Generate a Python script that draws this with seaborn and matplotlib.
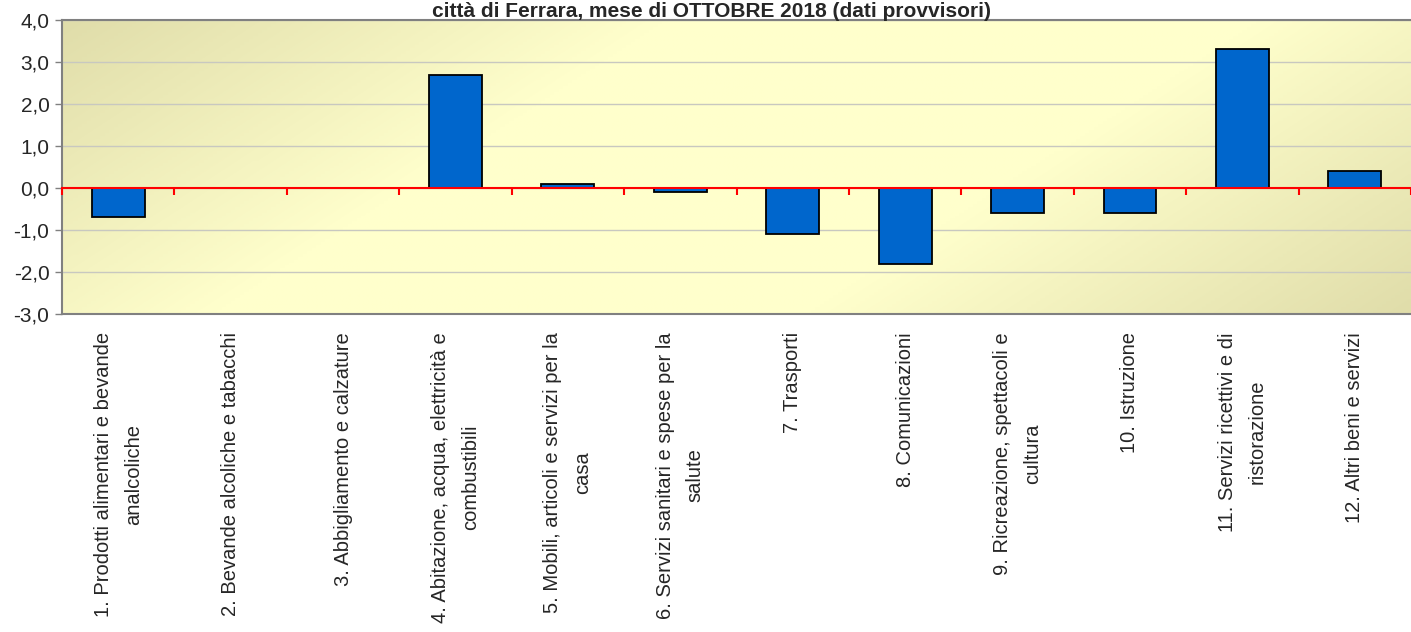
import numpy as np
import matplotlib
matplotlib.use("Agg")
import matplotlib.pyplot as plt
from matplotlib.colors import LinearSegmentedColormap
from matplotlib.ticker import FuncFormatter, NullFormatter
import seaborn as sns

# categorie e variazioni
categories = [
    "1. Prodotti alimentari e bevande\nanalcoliche",
    "2. Bevande alcoliche e tabacchi",
    "3. Abbigliamento e calzature",
    "4. Abitazione, acqua, elettricità e\ncombustibili",
    "5. Mobili, articoli e servizi per la\ncasa",
    "6. Servizi sanitari e spese per la\nsalute",
    "7. Trasporti",
    "8. Comunicazioni",
    "9. Ricreazione, spettacoli e\ncultura",
    "10. Istruzione",
    "11. Servizi ricettivi e di\nristorazione",
    "12. Altri beni e servizi",
]
values = [-0.7, 0.0, 0.0, 2.7, 0.1, -0.1, -1.1, -1.8, -0.6, -0.6, 3.3, 0.4]
y_ticks = [-3, -2, -1, 0, 1, 2, 3, 4]
title = "città di Ferrara, mese di OTTOBRE 2018 (dati provvisori)"

sns.set_style("white")
plt.rcParams['font.family'] = ['Liberation Sans', 'DejaVu Sans']

fig = plt.figure(figsize=(14.11, 6.32), dpi=100)
ax = fig.add_axes([62/1411, 1-314/632, (1411-62)/1411, 294/632])

# sfondo sfumato tipo Excel
cmap = LinearSegmentedColormap.from_list("bg", ["#E0DDAA", "#FFFFCC", "#FFFFCC", "#E0DDAA"])
gx, gy = np.meshgrid(np.linspace(0, 1, 300), np.linspace(0, 1, 100))
grad = (gx * 0.75 + gy * 0.25)
ax.imshow(grad, cmap=cmap, extent=[-0.5, 11.5, -3, 4], aspect='auto',
          origin='upper', zorder=0, interpolation='bilinear')

sns.barplot(x=list(range(len(values))), y=values, color="#0066CC",
            edgecolor="black", linewidth=1.3, width=0.47, saturation=1,
            ax=ax, zorder=3)

ax.set_xlim(-0.5, 11.5)
ax.set_ylim(-3, 4)
ax.set_yticks(y_ticks)
ax.yaxis.set_major_formatter(FuncFormatter(lambda v, p: f"{v:.1f}".replace(".", ",")))
ax.grid(axis='y', color="#C8C8C0", linewidth=1)
for line in ax.get_ygridlines():
    line.set_zorder(1)

ax.set_xticks(range(len(categories)))
ax.set_xticklabels(categories, rotation=90, ha='center', va='top',
                   multialignment='center', fontsize=14.5, linespacing=1.75)
ax.tick_params(axis='x', length=0, pad=13)
ax.tick_params(axis='y', length=5, width=1, color="#808080", labelsize=15,
               left=True, pad=4)
ax.set_xlabel("")
ax.set_ylabel("")

for side in ['left', 'top', 'bottom']:
    ax.spines[side].set_color("#808080")
    ax.spines[side].set_linewidth(1.5)
ax.spines['right'].set_visible(False)

# asse dello zero in rosso con tacche tra le categorie
zero_ax = ax.secondary_xaxis(3/7)
zero_ax.set_xticks(np.arange(-0.5, 12, 1))
zero_ax.xaxis.set_major_formatter(NullFormatter())
zero_ax.tick_params(axis='x', direction='out', length=5, width=1.5,
                    color='red', bottom=True, top=False)
zero_ax.spines['bottom'].set_color('red')
zero_ax.spines['bottom'].set_linewidth(1.5)
zero_ax.spines['top'].set_visible(False)
zero_ax.set_zorder(4)

fig.text(712/1411, 1-17/632, title, ha='center', va='baseline',
         fontsize=15, fontweight='bold')

fig.savefig("out.png", dpi=100)
